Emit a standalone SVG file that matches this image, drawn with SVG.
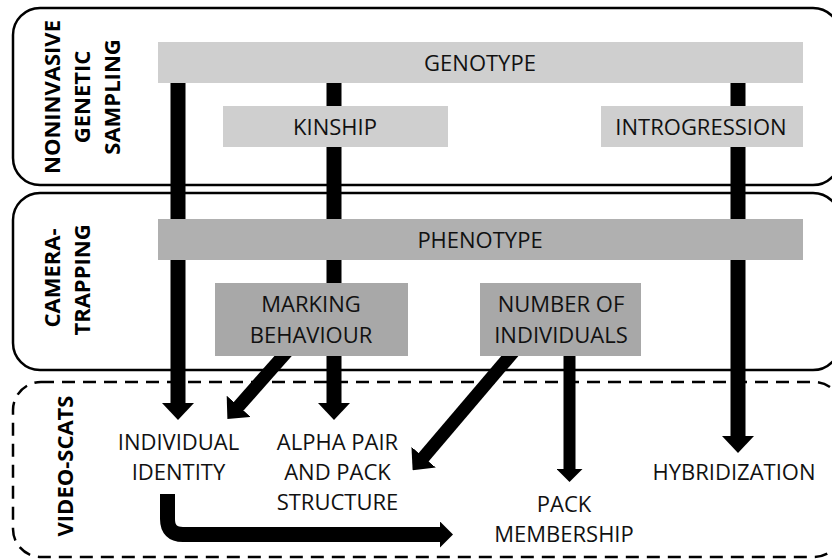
<svg xmlns="http://www.w3.org/2000/svg" width="832" height="560" viewBox="0 0 832 560">
<style>
.panel{fill:#fff;stroke:#000;stroke-width:2.5}
.dash{fill:none;stroke:#000;stroke-width:2.5;stroke-dasharray:13 8}
.lbl{font-family:"Open Sans","Liberation Sans",sans-serif;font-size:22px;font-weight:bold;fill:#000;text-anchor:middle}
.t{font-family:"Open Sans","Liberation Sans",sans-serif;font-size:22px;fill:#111;text-anchor:middle}
.g1{fill:#cfcfcf}
.g2{fill:#b0b0b0}
.g3{fill:#a8a8a8}
.c{fill:none;stroke:#000;stroke-width:15}
</style>
<defs>
<marker id="ah" markerUnits="userSpaceOnUse" markerWidth="17" markerHeight="32" viewBox="0 0 17 32" refX="1" refY="16" orient="auto">
<path d="M0,0 L17,16 L0,32 z" fill="#000"/>
</marker>
<marker id="as" markerUnits="userSpaceOnUse" markerWidth="13" markerHeight="26" viewBox="0 0 13 26" refX="1" refY="13" orient="auto">
<path d="M0,0 L13,13 L0,26 z" fill="#000"/>
</marker>
</defs>

<g id="panels">
<rect id="panel-genetic" class="panel" x="13" y="8" width="827" height="177" rx="27" ry="27"/>
<rect id="panel-camera" class="panel" x="13" y="193" width="827" height="177" rx="27" ry="27"/>
<rect id="panel-video" class="dash" x="13" y="382" width="829" height="175" rx="28" ry="28"/>
<text class="lbl" transform="translate(60,97) rotate(-90)">NONINVASIVE</text>
<text class="lbl" transform="translate(90,97) rotate(-90)">GENETIC</text>
<text class="lbl" transform="translate(120,97) rotate(-90)">SAMPLING</text>
<text class="lbl" transform="translate(60,278) rotate(-90)">CAMERA-</text>
<text class="lbl" transform="translate(90,280) rotate(-90)">TRAPPING</text>
<text class="lbl" transform="translate(73,466) rotate(-90)">VIDEO-SCATS</text>
</g>

<g id="connectors">
<path class="c" d="M178,80 V404" marker-end="url(#ah)"/>
<path class="c" d="M334,80 V404" marker-end="url(#ah)"/>
<path class="c" d="M738,80 V437" marker-end="url(#ah)"/>
<path class="c" style="stroke-width:12" d="M569.5,350 V470" marker-end="url(#as)"/>
<path class="c" style="stroke-width:13" d="M292,346 L238,407" marker-end="url(#ah)"/>
<path class="c" style="stroke-width:13" d="M520,344 L423,458" marker-end="url(#ah)"/>
<path class="c" d="M167.5,494 V519 Q167.5,534.5 183,534.5 H441" marker-end="url(#as)"/>
</g>

<g id="node-genotype">
<rect class="g1" x="158" y="42" width="645" height="41"/>
<text class="t" x="480" y="71">GENOTYPE</text>
</g>
<g id="node-kinship">
<rect class="g1" x="223" y="106" width="225" height="41"/>
<text class="t" x="335" y="135">KINSHIP</text>
</g>
<g id="node-introgression">
<rect class="g1" x="601" y="106" width="202" height="41"/>
<text class="t" x="701" y="135">INTROGRESSION</text>
</g>
<g id="node-phenotype">
<rect class="g2" x="158" y="219" width="645" height="41"/>
<text class="t" x="480" y="248">PHENOTYPE</text>
</g>
<g id="node-marking">
<rect class="g3" x="215" y="283" width="193" height="73"/>
<text class="t" x="311" y="312">MARKING</text>
<text class="t" x="311" y="343">BEHAVIOUR</text>
</g>
<g id="node-number">
<rect class="g3" x="480" y="283" width="161" height="73"/>
<text class="t" x="561" y="312">NUMBER OF</text>
<text class="t" x="561" y="343">INDIVIDUALS</text>
</g>
<g id="node-identity">
<text class="t" x="178.5" y="450">INDIVIDUAL</text>
<text class="t" x="178.5" y="480">IDENTITY</text>
</g>
<g id="node-alpha">
<text class="t" x="337.5" y="450">ALPHA PAIR</text>
<text class="t" x="337.5" y="480">AND PACK</text>
<text class="t" x="337.5" y="510">STRUCTURE</text>
</g>
<g id="node-pack">
<text class="t" x="564" y="512">PACK</text>
<text class="t" x="564" y="542">MEMBERSHIP</text>
</g>
<g id="node-hybrid">
<text class="t" x="734" y="480">HYBRIDIZATION</text>
</g>
</svg>
